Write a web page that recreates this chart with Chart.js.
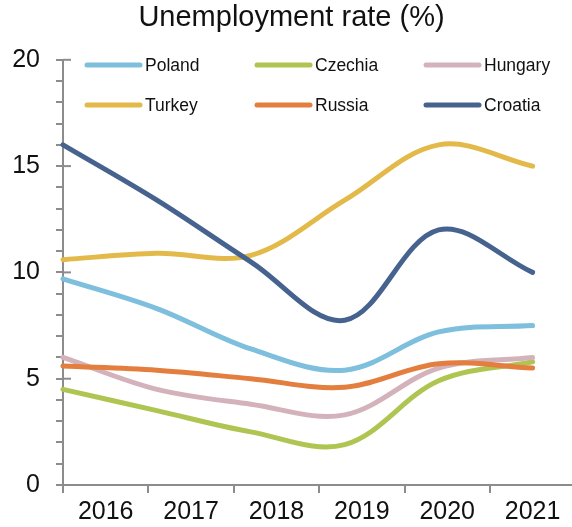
<!DOCTYPE html>
<html>
<head>
<meta charset="utf-8">
<script src="https://cdn.jsdelivr.net/npm/chart.js@4.4.1/dist/chart.umd.min.js"></script>
<style>
  html, body { margin: 0; padding: 0; background: #fff; }
  canvas { display: block; }
</style>
</head>
<body>
<canvas id="myChart" width="572" height="527"></canvas>
<script>
// tick labels
var years = ['2016', '2017', '2018', '2019', '2020', '2021'];

// unemployment rate (%) per country, one value per year
var poland  = [9.7, 8.3, 6.4, 5.4, 7.2, 7.5];
var czechia = [4.5, 3.5, 2.5, 1.9, 4.9, 5.8];
var hungary = [6.0, 4.5, 3.8, 3.3, 5.5, 6.0];
var turkey  = [10.6, 10.9, 10.8, 13.4, 16.0, 15.0];
var russia  = [5.6, 5.4, 5.0, 4.6, 5.7, 5.5];
var croatia = [16.0, 13.4, 10.5, 7.75, 12.0, 10.0];

var countries = ['Poland', 'Czechia', 'Hungary', 'Turkey', 'Russia', 'Croatia'];
var series = [poland, czechia, hungary, turkey, russia, croatia];
var colors = ['#7dbfdd', '#afc552', '#d4b2bb', '#e3b94a', '#e37e3e', '#46628e'];

var FONT = "'Liberation Sans', Arial, sans-serif";
var AXIS = '#8c8c8c';

// the points run from the axis start to the middle of the last year slot
function toPoints(arr) {
  return arr.map(function (v, i) {
    return { x: i * 5.5 / (arr.length - 1), y: v };
  });
}

var datasets = series.map(function (arr, i) {
  return {
    label: countries[i],
    data: toPoints(arr),
    borderColor: colors[i],
    backgroundColor: colors[i],
    borderWidth: 5,
    borderCapStyle: 'round',
    pointRadius: 0,
    tension: 0.35,
    clip: false,
    order: series.length - i
  };
});

// legend laid out as a 3x2 grid inside the plot
var gridLegend = {
  id: 'gridLegend',
  afterDraw: function (chart) {
    var ctx = chart.ctx;
    var cols = [87, 257, 426];
    var rows = [65, 105];
    ctx.save();
    ctx.font = '17.5px ' + FONT;
    ctx.textBaseline = 'middle';
    ctx.fillStyle = '#111';
    chart.data.datasets.forEach(function (ds, i) {
      var x = cols[i % 3], y = rows[Math.floor(i / 3)];
      ctx.strokeStyle = ds.borderColor;
      ctx.lineWidth = 5;
      ctx.lineCap = 'round';
      ctx.beginPath();
      ctx.moveTo(x, y);
      ctx.lineTo(x + 53, y);
      ctx.stroke();
      ctx.fillText(ds.label, x + 58, y + 1);
    });
    ctx.restore();
  }
};

// major y ticks cross the axis
var majorTicks = {
  id: 'majorTicks',
  afterDraw: function (chart) {
    var ctx = chart.ctx, y = chart.scales.y, left = chart.chartArea.left;
    ctx.save();
    ctx.strokeStyle = AXIS;
    ctx.lineWidth = 2;
    [0, 5, 10, 15, 20].forEach(function (v) {
      var py = y.getPixelForValue(v);
      ctx.beginPath();
      ctx.moveTo(left, py);
      ctx.lineTo(left + 8, py);
      ctx.stroke();
    });
    ctx.restore();
  }
};

new Chart(document.getElementById('myChart').getContext('2d'), {
  type: 'line',
  data: { datasets: datasets },
  options: {
    responsive: false,
    animation: false,
    layout: { padding: { left: 12, right: 1, top: 0, bottom: 0 } },
    plugins: {
      legend: { display: false },
      tooltip: { enabled: false },
      title: {
        display: true,
        text: 'Unemployment rate (%)',
        color: '#111',
        font: { family: FONT, size: 29, weight: 'normal' },
        padding: { top: 1, bottom: 24 }
      }
    },
    scales: {
      x: {
        type: 'linear',
        min: 0,
        max: 5.95,
        afterBuildTicks: function (scale) {
          scale.ticks = years.map(function (y, i) { return { value: i }; });
        },
        afterFit: function (scale) { scale.height = 42; },
        border: { color: AXIS, width: 2 },
        grid: { drawOnChartArea: false, drawTicks: true, tickLength: 8, color: AXIS, lineWidth: 2 },
        ticks: {
          labelOffset: 42.7,
          padding: 4,
          color: '#111',
          maxRotation: 0,
          font: { family: FONT, size: 25 },
          callback: function (v) { return years[v]; }
        }
      },
      y: {
        min: 0,
        max: 20,
        afterBuildTicks: function (scale) {
          var t = [];
          for (var v = 0; v <= 20; v++) t.push({ value: v });
          scale.ticks = t;
        },
        afterFit: function (scale) { scale.width = 51; },
        border: { color: AXIS, width: 2 },
        grid: { drawOnChartArea: false, drawTicks: true, tickLength: 7, color: AXIS, lineWidth: 2 },
        ticks: {
          padding: 16,
          color: '#111',
          font: { family: FONT, size: 25 },
          autoSkip: false,
          callback: function (v) { return v % 5 === 0 ? v : ''; }
        }
      }
    }
  },
  plugins: [gridLegend, majorTicks]
});
</script>
</body>
</html>
